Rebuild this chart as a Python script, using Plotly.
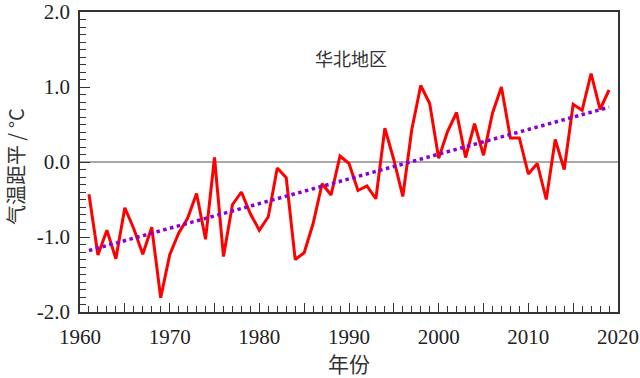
import plotly.graph_objects as go

years = list(range(1961, 2020))
anomaly = [
    -0.43, -1.24, -0.91, -1.29, -0.61, -0.89, -1.23, -0.87, -1.81, -1.24,
    -0.95, -0.75, -0.42, -1.03, 0.06, -1.26, -0.57, -0.40, -0.69, -0.91,
    -0.73, -0.08, -0.21, -1.30, -1.21, -0.82, -0.29, -0.44, 0.08, -0.02,
    -0.38, -0.32, -0.49, 0.45, 0.03, -0.46, 0.43, 1.02, 0.78, 0.05,
    0.41, 0.66, 0.06, 0.51, 0.09, 0.65, 1.00, 0.32, 0.32, -0.16,
    -0.02, -0.50, 0.30, -0.10, 0.77, 0.69, 1.18, 0.70, 0.96,
]
trend_years = [1961, 2019]
trend_values = [-1.18, 0.73]

x_tickvals = list(range(1960, 2021, 5))
x_ticktext = [str(v) if v % 10 == 0 else "" for v in x_tickvals]
y_tickvals = [-2.0, -1.0, 0.0, 1.0, 2.0]
y_ticktext = ["-2.0", "-1.0", "0.0", "1.0", "2.0"]

serif = "Liberation Serif, Noto Sans CJK SC, serif"
cjk = "Noto Sans CJK SC, sans-serif"

fig = go.Figure()
fig.add_trace(go.Scatter(x=[1960, 2020], y=[0, 0], mode="lines",
                         line=dict(color="#555555", width=1.2), hoverinfo="skip"))
fig.add_trace(go.Scatter(x=years, y=anomaly, mode="lines",
                         line=dict(color="#ff0000", width=3)))
fig.add_trace(go.Scatter(x=trend_years, y=trend_values, mode="lines",
                         line=dict(color="#8a00d4", width=3.5, dash="dot")))

fig.update_layout(
    width=640, height=378,
    margin=dict(l=80, r=22, t=12, b=66),
    paper_bgcolor="white", plot_bgcolor="white",
    showlegend=False,
    font=dict(family=serif, size=21, color="#222222"),
    annotations=[
        dict(text="华北地区", x=0.504, y=0.895, xref="paper", yref="paper",
             showarrow=False, font=dict(family=cjk, size=18, color="#333333")),
        dict(text="气温距平 / °C", x=-0.1208, y=0.483, xref="paper", yref="paper",
             xanchor="center", yanchor="middle", textangle=-90, borderpad=0,
             showarrow=False, font=dict(family=cjk, size=20, color="#333333")),
    ],
)
fig.update_xaxes(
    range=[1960, 2020], tickmode="array", tickvals=x_tickvals, ticktext=x_ticktext,
    ticks="inside", ticklen=9, tickwidth=1.2, tickcolor="#333",
    minor=dict(dtick=1, tick0=1960, ticks="inside", ticklen=6, tickwidth=1, tickcolor="#333"),
    showline=True, linecolor="#333333", linewidth=1.5, mirror=True,
    showgrid=False, zeroline=False, automargin=False, ticklabelstandoff=5,
    tickfont=dict(family=serif, size=21, color="#222"),
    title=dict(text="年份", font=dict(family=cjk, size=21, color="#333"), standoff=6),
)
fig.update_yaxes(
    range=[-2, 2], tickmode="array", tickvals=y_tickvals, ticktext=y_ticktext,
    ticks="inside", ticklen=10, tickwidth=1.2, tickcolor="#333",
    minor=dict(dtick=0.1, tick0=0, ticks="inside", ticklen=6, tickwidth=1, tickcolor="#333"),
    showline=True, linecolor="#333333", linewidth=1.5, mirror=True,
    showgrid=False, zeroline=False, automargin=False, ticklabelstandoff=4,
    tickfont=dict(family=serif, size=21, color="#222"),
)

fig.write_html("out.html", config={"displayModeBar": False},
               post_script="document.body.style.margin='0';")
